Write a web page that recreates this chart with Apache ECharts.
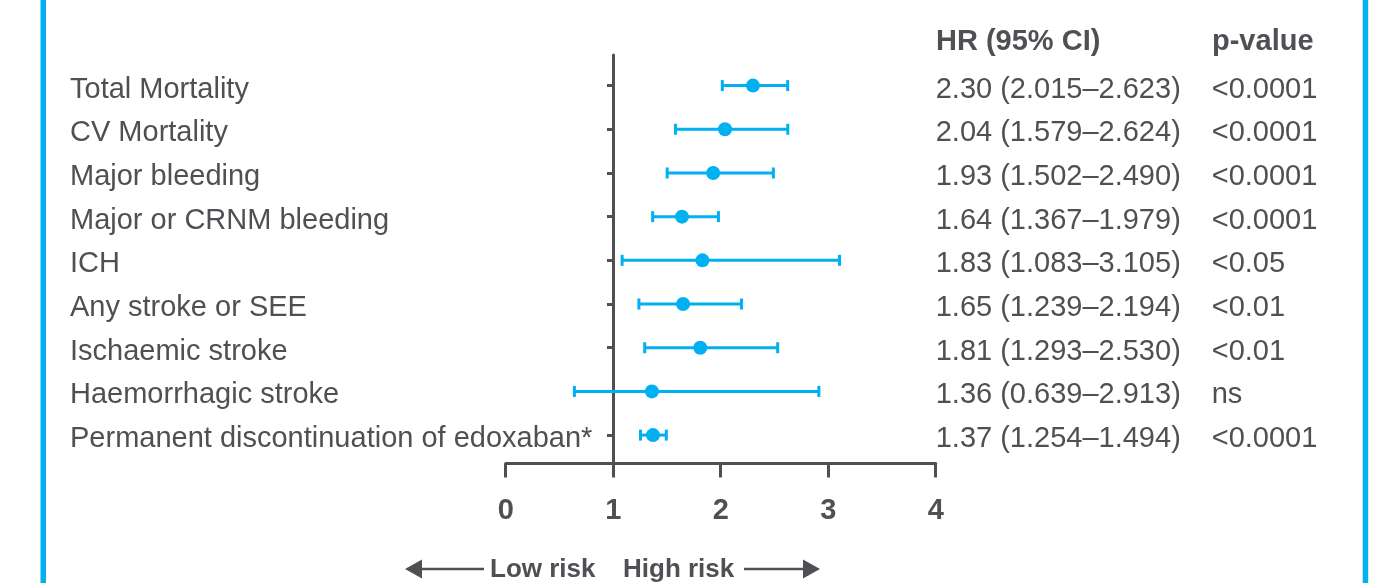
<!DOCTYPE html>
<html>
<head>
<meta charset="utf-8">
<script src="https://cdn.jsdelivr.net/npm/echarts@6/dist/echarts.min.js"></script>
<style>html,body{margin:0;padding:0;background:#fff;}#c{width:1373px;height:583px;}</style>
</head>
<body>
<div id="c"></div>
<script>
const categories = [
  'Total Mortality',
  'CV Mortality',
  'Major bleeding',
  'Major or CRNM bleeding',
  'ICH',
  'Any stroke or SEE',
  'Ischaemic stroke',
  'Haemorrhagic stroke',
  'Permanent discontinuation of edoxaban*'
];
const hr   = [2.30, 2.04, 1.93, 1.64, 1.83, 1.65, 1.81, 1.36, 1.37];
const low  = [2.015, 1.579, 1.502, 1.367, 1.083, 1.239, 1.293, 0.639, 1.254];
const high = [2.623, 2.624, 2.490, 1.979, 3.105, 2.194, 2.530, 2.913, 1.494];
const pValues = ['<0.0001', '<0.0001', '<0.0001', '<0.0001', '<0.05', '<0.01', '<0.01', 'ns', '<0.0001'];
const xTicks = [0, 1, 2, 3, 4];
const headers = ['HR (95% CI)', 'p-value'];

const TXT = '#4f5054';
const BLUE = '#00b0f0';
const FONT = '"Liberation Sans", Arial, sans-serif';
const rowIdx = categories.map((_, i) => i);
const hrText = hr.map((v, i) => v.toFixed(2) + ' (' + low[i].toFixed(3) + '\u2013' + high[i].toFixed(3) + ')');

const chart = echarts.init(document.getElementById('c'), null, {renderer: 'canvas'});

const yBase = {
  type: 'value', inverse: true, min: -0.7, max: 8.65,
  splitLine: {show: false}
};
const rowRich = {t: {color: TXT, fontFamily: FONT, fontSize: 29, padding: [8, 0, 0, 0]}};
const rowLabel = {
  customValues: rowIdx, align: 'left',
  color: TXT, fontFamily: FONT, fontSize: 29,
  rich: rowRich
};

chart.setOption({
  backgroundColor: '#fff',
  animation: false,
  grid: {left: 505.7, right: 437.3, top: 55, bottom: 119.5},
  xAxis: {
    type: 'value', min: 0, max: 4, interval: 1,
    splitLine: {show: false},
    axisLine: {show: true, onZero: false, lineStyle: {color: TXT, width: 3}},
    axisTick: {show: true, length: 14, lineStyle: {color: TXT, width: 3}},
    axisLabel: {
      color: TXT, fontFamily: FONT, fontWeight: 'bold', fontSize: 29, margin: 33,
      customValues: xTicks
    }
  },
  yAxis: [
    Object.assign({}, yBase, {
      position: 'left', offset: -107.3,
      axisLine: {show: true, onZero: false, lineStyle: {color: TXT, width: 3}},
      axisTick: {show: true, length: 6, customValues: rowIdx, lineStyle: {color: TXT, width: 3}},
      axisLabel: Object.assign({}, rowLabel, {
        margin: 543,
        formatter: v => '{t|' + (categories[Math.round(v)] || '') + '}'
      })
    }),
    Object.assign({}, yBase, {
      position: 'right', offset: 0,
      axisLine: {show: false, onZero: false},
      axisTick: {show: false},
      axisLabel: Object.assign({}, rowLabel, {
        margin: 0,
        formatter: v => '{t|' + (hrText[Math.round(v)] || '') + '}'
      })
    }),
    Object.assign({}, yBase, {
      position: 'right', offset: 276,
      axisLine: {show: false, onZero: false},
      axisTick: {show: false},
      axisLabel: Object.assign({}, rowLabel, {
        margin: 0,
        formatter: v => '{t|' + (pValues[Math.round(v)] || '') + '}'
      })
    })
  ],
  series: [
    {
      type: 'custom',
      yAxisIndex: 0,
      data: rowIdx.map(i => [low[i], high[i], i]),
      encode: {x: [0, 1], y: 2},
      renderItem: function (params, api) {
        const a = api.coord([api.value(0), api.value(2)]);
        const b = api.coord([api.value(1), api.value(2)]);
        const h = 5.5;
        const style = {stroke: BLUE, lineWidth: 3};
        return {
          type: 'group',
          children: [
            {type: 'line', shape: {x1: a[0], y1: a[1], x2: b[0], y2: b[1]}, style: style},
            {type: 'line', shape: {x1: a[0], y1: a[1] - h, x2: a[0], y2: a[1] + h}, style: style},
            {type: 'line', shape: {x1: b[0], y1: b[1] - h, x2: b[0], y2: b[1] + h}, style: style}
          ]
        };
      },
      z: 3
    },
    {
      type: 'scatter',
      yAxisIndex: 0,
      data: rowIdx.map(i => [hr[i], i]),
      symbol: 'circle',
      symbolSize: 14,
      itemStyle: {color: BLUE, opacity: 1},
      z: 4
    }
  ],
  graphic: [
    {type: 'rect', shape: {x: 40.5, y: 0, width: 5.5, height: 583}, style: {fill: BLUE}},
    {type: 'rect', shape: {x: 1362.7, y: 0, width: 5.5, height: 583}, style: {fill: BLUE}},
    {type: 'text', x: 936, y: 42, style: {text: headers[0], fill: TXT, font: 'bold 29px ' + FONT, verticalAlign: 'middle', align: 'left'}},
    {type: 'text', x: 1212, y: 42, style: {text: headers[1], fill: TXT, font: 'bold 29px ' + FONT, verticalAlign: 'middle', align: 'left'}},
    {type: 'text', x: 490, y: 570, style: {text: 'Low risk', fill: TXT, font: 'bold 26px ' + FONT, verticalAlign: 'middle', align: 'left'}},
    {type: 'text', x: 623, y: 570, style: {text: 'High risk', fill: TXT, font: 'bold 26px ' + FONT, verticalAlign: 'middle', align: 'left'}},
    {type: 'line', shape: {x1: 418, y1: 569, x2: 484, y2: 569}, style: {stroke: TXT, lineWidth: 2.5}},
    {type: 'polygon', shape: {points: [[405, 569], [422, 559.5], [422, 578.5]]}, style: {fill: TXT}},
    {type: 'line', shape: {x1: 744, y1: 569, x2: 808, y2: 569}, style: {stroke: TXT, lineWidth: 2.5}},
    {type: 'polygon', shape: {points: [[820, 569], [803, 559.5], [803, 578.5]]}, style: {fill: TXT}}
  ]
});
</script>
</body>
</html>
